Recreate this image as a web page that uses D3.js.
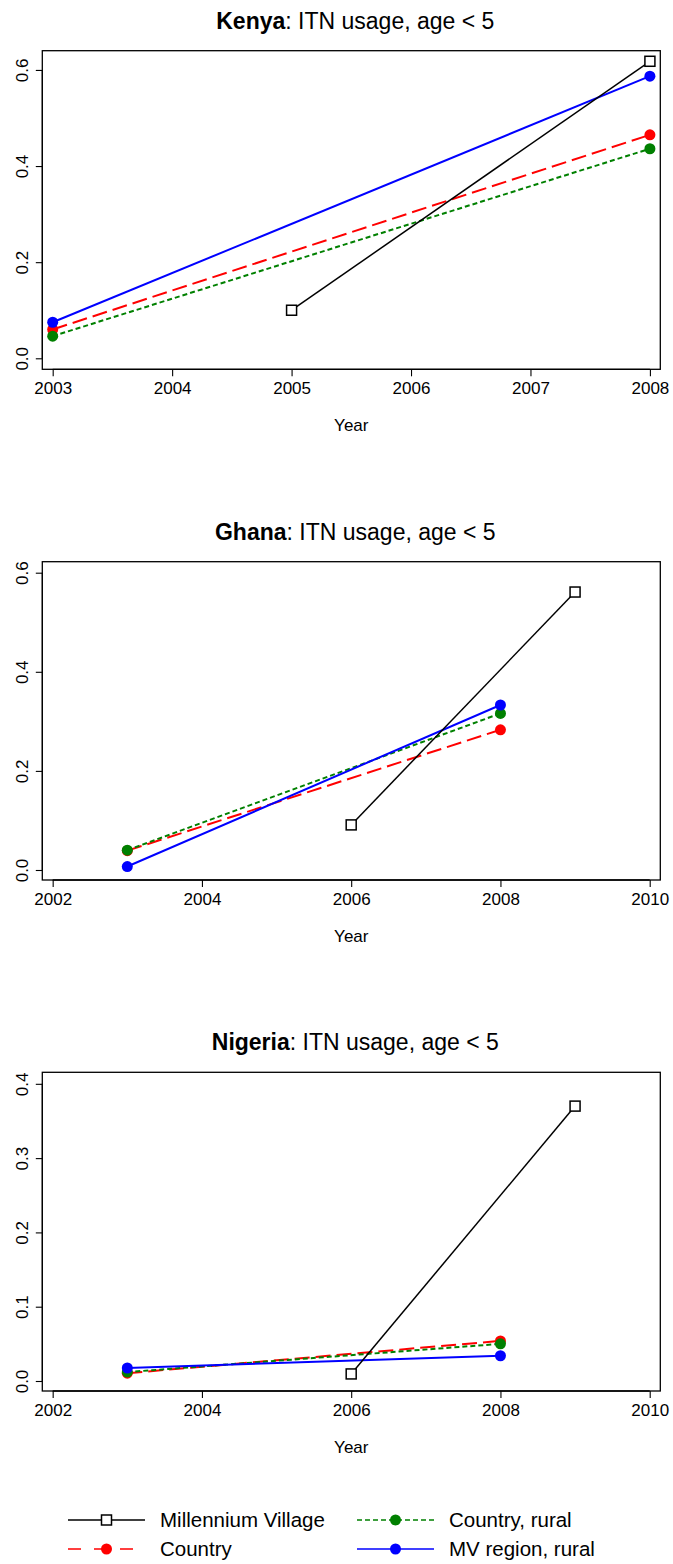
<!DOCTYPE html>
<html><head><meta charset="utf-8">
<script src="https://cdn.jsdelivr.net/npm/d3@7"></script>
<style>
html,body{margin:0;padding:0;background:#fff;}
svg{display:block;font-family:"Liberation Sans",Arial,sans-serif;}
</style></head>
<body>
<svg id="chart" width="673" height="1564"></svg>
<script>
// ---- data ----
const countries = ["Kenya", "Ghana", "Nigeria"];
const seriesNames = ["Millennium Village", "Country", "Country, rural", "MV region, rural"];
const seriesColors = ["#000000", "#ff0000", "#008000", "#0000ff"];

const kenyaYears = { mv: [2005, 2008], other: [2003, 2008] };
const kenyaMV = [0.100, 0.618];
const kenyaCountry = [0.060, 0.465];
const kenyaRural = [0.046, 0.436];
const kenyaMVRegion = [0.075, 0.587];

const ghanaYears = { mv: [2006, 2009], other: [2003, 2008] };
const ghanaMV = [0.091, 0.561];
const ghanaCountry = [0.039, 0.283];
const ghanaRural = [0.040, 0.316];
const ghanaMVRegion = [0.007, 0.333];

const nigeriaYears = { mv: [2006, 2009], other: [2003, 2008] };
const nigeriaMV = [0.0095, 0.370];
const nigeriaCountry = [0.0105, 0.054];
const nigeriaRural = [0.012, 0.050];
const nigeriaMVRegion = [0.0175, 0.034];

const kenyaXTicks = [2003, 2004, 2005, 2006, 2007, 2008];
const otherXTicks = [2002, 2004, 2006, 2008, 2010];
const kenyaYTicks = [0, 0.2, 0.4, 0.6];
const ghanaYTicks = [0, 0.2, 0.4, 0.6];
const nigeriaYTicks = [0, 0.1, 0.2, 0.3, 0.4];

// ---- layout ----
const svg = d3.select("#chart");
const boxLeft = 42.3, boxRight = 660.3;
const panels = [
  { name: "Kenya", top: 50.7, bottom: 369.3, xDom: [2002.913, 2008.087], yDom: [-0.0229, 0.640],
    xTicks: kenyaXTicks, yTicks: kenyaYTicks, years: kenyaYears,
    vals: [kenyaMV, kenyaCountry, kenyaRural, kenyaMVRegion] },
  { name: "Ghana", top: 561.7, bottom: 880, xDom: [2001.861, 2010.142], yDom: [-0.0202, 0.6222],
    xTicks: otherXTicks, yTicks: ghanaYTicks, years: ghanaYears,
    vals: [ghanaMV, ghanaCountry, ghanaRural, ghanaMVRegion] },
  { name: "Nigeria", top: 1072.3, bottom: 1391, xDom: [2001.861, 2010.142], yDom: [-0.01346, 0.4155],
    xTicks: otherXTicks, yTicks: nigeriaYTicks, years: nigeriaYears,
    vals: [nigeriaMV, nigeriaCountry, nigeriaRural, nigeriaMVRegion] }
];
const dashes = [null, "15,6", "5,3", null];
const widths = [1.5, 2, 2, 2];
const drawOrder = [1, 2, 3, 0];

panels.forEach(p => {
  const x = d3.scaleLinear().domain(p.xDom).range([boxLeft, boxRight]);
  const y = d3.scaleLinear().domain(p.yDom).range([p.bottom, p.top]);
  const g = svg.append("g");
  const cx = (boxLeft + boxRight) / 2;

  // title
  const t = g.append("text").attr("x", cx + 4).attr("y", p.top - 22)
    .attr("text-anchor", "middle").attr("font-size", 23).attr("fill", "#000");
  t.append("tspan").attr("font-weight", "bold").text(p.name);
  t.append("tspan").text(": ITN usage, age < 5");

  // box
  g.append("rect").attr("x", boxLeft).attr("y", p.top)
    .attr("width", boxRight - boxLeft).attr("height", p.bottom - p.top)
    .attr("fill", "none").attr("stroke", "#000").attr("stroke-width", 1.3);

  // x axis
  const xa = g.append("g").attr("transform", `translate(0,${p.bottom})`)
    .call(d3.axisBottom(x).tickValues(p.xTicks).tickFormat(d3.format("d")).tickSize(7).tickPadding(6));
  xa.select(".domain").attr("d", `M${x(p.xTicks[0])},0H${x(p.xTicks[p.xTicks.length-1])}`).attr("stroke-width", 1.3);
  xa.selectAll(".tick line").attr("stroke-width", 1.1);
  xa.selectAll("text").attr("font-size", 17).attr("font-family", "Liberation Sans, Arial, sans-serif").attr("fill", "#000");

  // y axis
  const ya = g.append("g").attr("transform", `translate(${boxLeft},0)`)
    .call(d3.axisLeft(y).tickValues(p.yTicks).tickFormat(d3.format(".1f")).tickSize(6.5).tickPadding(0));
  ya.select(".domain").attr("d", `M0,${y(p.yTicks[0])}V${y(p.yTicks[p.yTicks.length-1])}`).attr("stroke-width", 1.1);
  ya.selectAll(".tick line").attr("stroke-width", 1.1);
  ya.selectAll("text").attr("font-size", 17).attr("font-family", "Liberation Sans, Arial, sans-serif")
    .attr("fill", "#000").attr("text-anchor", "middle").attr("dy", null)
    .attr("x", 0).attr("y", 0)
    .attr("transform", "translate(-19.8,0) rotate(-90)")
    .attr("dominant-baseline", "central");

  // x label
  g.append("text").attr("x", cx).attr("y", p.bottom + 61.5).attr("text-anchor", "middle")
    .attr("font-size", 17).attr("fill", "#000").text("Year");

  // series
  const line = d3.line().x(d => x(d[0])).y(d => y(d[1]));
  drawOrder.forEach(i => {
    const yrs = i === 0 ? p.years.mv : p.years.other;
    const pts = yrs.map((yr, k) => [yr, p.vals[i][k]]);
    g.append("path").datum(pts).attr("d", line).attr("fill", "none")
      .attr("stroke", seriesColors[i]).attr("stroke-width", widths[i])
      .attr("stroke-dasharray", dashes[i]);
    if (i === 0) {
      g.selectAll(null).data(pts).enter().append("rect")
        .attr("x", d => x(d[0]) - 5).attr("y", d => y(d[1]) - 5)
        .attr("width", 10).attr("height", 10)
        .attr("fill", "#fff").attr("stroke", "#000").attr("stroke-width", 1.5);
    } else {
      g.selectAll(null).data(pts).enter().append("circle")
        .attr("cx", d => x(d[0])).attr("cy", d => y(d[1])).attr("r", 5.5)
        .attr("fill", seriesColors[i]);
    }
  });
});

// ---- legend ----
const legendPos = [
  { x: 68, y: 1520 }, { x: 68, y: 1549 }, { x: 357, y: 1520 }, { x: 357, y: 1549 }
];
const legendDash = [null, "13,13", "5,3", null];
const lg = svg.append("g");
seriesNames.forEach((name, i) => {
  const pos = legendPos[i];
  const row = lg.append("g").attr("transform", `translate(${pos.x},${pos.y})`);
  row.append("line").attr("x1", 0).attr("x2", 77).attr("y1", 0).attr("y2", 0)
    .attr("stroke", seriesColors[i]).attr("stroke-width", 1.5)
    .attr("stroke-dasharray", legendDash[i]);
  if (i === 0) {
    row.append("rect").attr("x", 33.5).attr("y", -5).attr("width", 10).attr("height", 10)
      .attr("fill", "#fff").attr("stroke", "#000").attr("stroke-width", 1.5);
  } else {
    row.append("circle").attr("cx", 38.5).attr("cy", 0).attr("r", 5.5).attr("fill", seriesColors[i]);
  }
  row.append("text").attr("x", 92).attr("y", 0).attr("dy", "0.35em")
    .attr("font-size", 20.5).attr("fill", "#000").text(name);
});
</script>
</body></html>
